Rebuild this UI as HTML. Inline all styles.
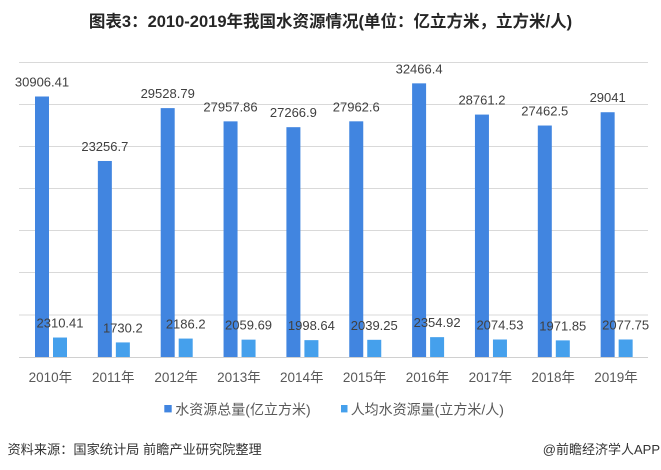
<!DOCTYPE html>
<html>
<head>
<meta charset="utf-8">
<style>
  html,body{margin:0;padding:0;background:#fff;}
  svg{display:block;}
  text{font-family:"Liberation Sans","Noto Sans CJK SC",sans-serif;}
</style>
</head>
<body>
<svg width="661" height="470" viewBox="0 0 661 470" xmlns="http://www.w3.org/2000/svg">
  <rect width="661" height="470" fill="#ffffff"/>

  <!-- Title -->
  <text x="330.5" y="27" text-anchor="middle" font-size="16.5" font-weight="bold" fill="#262626">图表3：2010-2019年我国水资源情况(单位：亿立方米，立方米/人)</text>

  <!-- Gridlines -->
  <g stroke="#d9d9d9" stroke-width="1">
    <line x1="19" y1="62.5" x2="648" y2="62.5"/>
    <line x1="19" y1="104.5" x2="648" y2="104.5"/>
    <line x1="19" y1="146.5" x2="648" y2="146.5"/>
    <line x1="19" y1="188.5" x2="648" y2="188.5"/>
    <line x1="19" y1="230.5" x2="648" y2="230.5"/>
    <line x1="19" y1="272.5" x2="648" y2="272.5"/>
    <line x1="19" y1="315" x2="648" y2="315"/>
  </g>

  <!-- Blue bars -->
  <g fill="#4185e0">
    <rect x="35" y="96.5" width="14" height="260.5"/>
    <rect x="97.85" y="160.98" width="14" height="196.02"/>
    <rect x="160.7" y="108.11" width="14" height="248.89"/>
    <rect x="223.55" y="121.36" width="14" height="235.64"/>
    <rect x="286.4" y="127.18" width="14" height="229.82"/>
    <rect x="349.25" y="121.32" width="14" height="235.68"/>
    <rect x="412.1" y="83.35" width="14" height="273.65"/>
    <rect x="474.95" y="114.58" width="14" height="242.42"/>
    <rect x="537.8" y="125.53" width="14" height="231.47"/>
    <rect x="600.65" y="112.23" width="14" height="244.77"/>
  </g>

  <!-- Light blue bars -->
  <g fill="#45a0ec">
    <rect x="53" y="337.53" width="14" height="19.47"/>
    <rect x="115.85" y="342.42" width="14" height="14.58"/>
    <rect x="178.7" y="338.57" width="14" height="18.43"/>
    <rect x="241.55" y="339.64" width="14" height="17.36"/>
    <rect x="304.4" y="340.15" width="14" height="16.85"/>
    <rect x="367.25" y="339.81" width="14" height="17.19"/>
    <rect x="430.1" y="337.15" width="14" height="19.85"/>
    <rect x="492.95" y="339.51" width="14" height="17.49"/>
    <rect x="555.8" y="340.38" width="14" height="16.62"/>
    <rect x="618.65" y="339.49" width="14" height="17.51"/>
  </g>

  <!-- Baseline -->
  <line x1="19" y1="357.5" x2="648" y2="357.5" stroke="#d0d0d0" stroke-width="1"/>

  <!-- Blue data labels -->
  <g font-size="13" fill="#404040" text-anchor="middle">
    <text x="42" y="86.5">30906.41</text>
    <text x="104.85" y="150.98">23256.7</text>
    <text x="167.7" y="98.11">29528.79</text>
    <text x="230.55" y="111.36">27957.86</text>
    <text x="293.4" y="117.18">27266.9</text>
    <text x="356.25" y="111.32">27962.6</text>
    <text x="419.1" y="73.35">32466.4</text>
    <text x="481.95" y="104.58">28761.2</text>
    <text x="544.8" y="115.53">27462.5</text>
    <text x="607.65" y="102.23">29041</text>
  </g>

  <!-- Light data labels -->
  <g font-size="13" fill="#404040" text-anchor="middle">
    <text x="60" y="327.53">2310.41</text>
    <text x="122.85" y="332.42">1730.2</text>
    <text x="185.7" y="328.57">2186.2</text>
    <text x="248.55" y="329.64">2059.69</text>
    <text x="311.4" y="330.15">1998.64</text>
    <text x="374.25" y="329.81">2039.25</text>
    <text x="437.1" y="327.15">2354.92</text>
    <text x="499.95" y="329.51">2074.53</text>
    <text x="562.8" y="330.38">1971.85</text>
    <text x="625.65" y="329.49">2077.75</text>
  </g>

  <!-- X axis labels -->
  <g font-size="13.5" fill="#595959" text-anchor="middle">
    <text x="50.4" y="382">2010年</text>
    <text x="113.25" y="382">2011年</text>
    <text x="176.1" y="382">2012年</text>
    <text x="238.95" y="382">2013年</text>
    <text x="301.8" y="382">2014年</text>
    <text x="364.65" y="382">2015年</text>
    <text x="427.5" y="382">2016年</text>
    <text x="490.35" y="382">2017年</text>
    <text x="553.2" y="382">2018年</text>
    <text x="616.05" y="382">2019年</text>
  </g>

  <!-- Legend -->
  <rect x="164.3" y="405" width="7.4" height="7.4" fill="#4185e0"/>
  <text x="175.3" y="414.5" font-size="14" fill="#595959">水资源总量(亿立方米)</text>
  <rect x="341" y="405" width="6.5" height="7.4" fill="#45a0ec"/>
  <text x="350.7" y="414.5" font-size="14" fill="#595959">人均水资源量(立方米/人)</text>

  <!-- Source -->
  <text x="7.5" y="454" font-size="13.2" fill="#333333">资料来源：国家统计局 前瞻产业研究院整理</text>
  <text x="660" y="454" font-size="13" fill="#333333" text-anchor="end">@前瞻经济学人APP</text>
</svg>
</body>
</html>
